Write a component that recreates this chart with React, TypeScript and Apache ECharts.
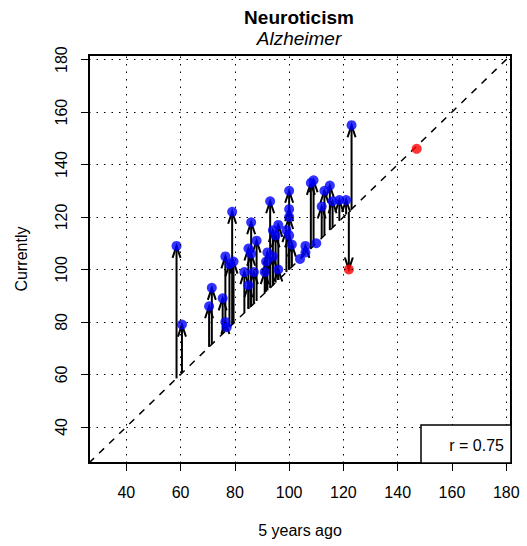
import React, { useEffect, useRef } from "react";
import * as echarts from "echarts";

// Axis range (same for both axes) and tick values
const AXIS_MIN = 26.24;
const AXIS_MAX = 181.76;
const X_TICKS = [40, 60, 80, 100, 120, 140, 160, 180];
const Y_TICKS = [40, 60, 80, 100, 120, 140, 160, 180];

// Blue points: score 5 years ago (x) and currently (y)
const BLUE_BEFORE = [58.5, 60.5, 70.5, 71.5, 75.5, 76.5, 77, 76.5, 78, 79.5, 79, 83.5, 85, 85, 86, 86, 87, 88, 91, 91.5, 92, 93, 94, 94, 95, 96, 96, 99, 100, 100, 100, 100, 101, 104, 106, 106, 110, 108, 109, 112, 113, 115, 116, 118.5, 121, 123];
const BLUE_NOW = [109, 79, 86, 93, 89, 80, 78, 105, 102, 103, 122, 99, 94, 108, 106, 118, 99, 111, 99, 103, 106.5, 126, 105, 115, 113, 117, 100, 115, 130, 123, 120, 113, 109.5, 104, 106.5, 109, 110, 133, 134, 124, 130, 132, 126, 126.5, 126.5, 155];

// Red points
const RED_BEFORE = [122, 147];
const RED_NOW = [100, 146];

const LEGEND_TEXT = "r = 0.75";
const TITLE = "Neuroticism";
const SUBTITLE = "Alzheimer";
const X_NAME = "5 years ago";
const Y_NAME = "Currently";

const FONT = "'Liberation Sans', Arial, Helvetica, sans-serif";

export default function App() {
  const ref = useRef<HTMLDivElement>(null);
  useEffect(() => {
    if (!ref.current) return;
    const chart = echarts.init(ref.current, undefined, { renderer: "svg" });
    const blue = BLUE_BEFORE.map((x, i) => [x, BLUE_NOW[i]]);
    const red = RED_BEFORE.map((x, i) => [x, RED_NOW[i]]);
    const arrows = blue.concat(red);

    const axisCommon = {
      type: "value" as const,
      min: AXIS_MIN,
      max: AXIS_MAX,
      axisLine: { show: false },
      splitLine: { show: false },
      axisTick: {
        show: true,
        inside: false,
        length: 8,
        lineStyle: { color: "#000", width: 1 },
      },
    };

    chart.setOption({
      animation: false,
      textStyle: { fontFamily: FONT },
      grid: {
        left: 89,
        right: 16,
        top: 55,
        bottom: 83,
        show: true,
        borderColor: "#000",
        borderWidth: 2,
        backgroundColor: "transparent",
      },
      xAxis: {
        ...axisCommon,
        axisTick: { ...axisCommon.axisTick, customValues: X_TICKS },
        axisLabel: {
          customValues: X_TICKS,
          color: "#000",
          fontSize: 16,
          margin: 21,
          fontFamily: FONT,
        },
        name: X_NAME,
        nameLocation: "middle",
        nameGap: 59,
        nameTextStyle: { color: "#000", fontSize: 16, fontFamily: FONT },
      },
      yAxis: {
        ...axisCommon,
        axisTick: { ...axisCommon.axisTick, customValues: Y_TICKS },
        axisLabel: {
          customValues: Y_TICKS,
          color: "#000",
          fontSize: 16,
          margin: 20,
          rotate: 90,
          fontFamily: FONT,
        },
        name: Y_NAME,
        nameLocation: "middle",
        nameGap: 60,
        nameTextStyle: { color: "#000", fontSize: 16, fontFamily: FONT },
      },
      graphic: [
        {
          type: "text",
          x: 299,
          y: 17,
          style: {
            text: TITLE,
            fontSize: 19,
            fontWeight: "bold",
            fontFamily: FONT,
            fill: "#000",
            align: "center",
            verticalAlign: "middle",
          },
        },
        {
          type: "text",
          x: 299,
          y: 38,
          style: {
            text: SUBTITLE,
            fontSize: 19,
            fontStyle: "italic",
            fontFamily: FONT,
            fill: "#000",
            align: "center",
            verticalAlign: "middle",
          },
        },
        {
          type: "rect",
          z: 100,
          shape: { x: 421, y: 425, width: 90, height: 38 },
          style: { fill: "#fff", stroke: "#000", lineWidth: 1.5 },
        },
        {
          type: "text",
          z: 101,
          x: 504,
          y: 445,
          style: {
            text: LEGEND_TEXT,
            fontSize: 16,
            fontFamily: FONT,
            fill: "#000",
            align: "right",
            verticalAlign: "middle",
          },
        },
      ],
      series: [
        {
          type: "line",
          data: [
            [AXIS_MIN, AXIS_MIN],
            [AXIS_MAX, AXIS_MAX],
          ],
          symbol: "none",
          silent: true,
          z: 1,
          lineStyle: { color: "#000", width: 1.5, type: [7, 7] },
          markLine: {
            silent: true,
            symbol: ["none", "none"],
            label: { show: false },
            lineStyle: { color: "#000", width: 1, type: [1.5, 6] },
            data: [
              ...X_TICKS.map((v) => ({ xAxis: v })),
              ...Y_TICKS.map((v) => ({ yAxis: v })),
            ],
          },
        },
        {
          type: "custom",
          data: arrows,
          z: 2,
          silent: true,
          renderItem: (params: any, api: any) => {
            const x = api.value(0);
            const y = api.value(1);
            const p0 = api.coord([x, x]);
            const p1 = api.coord([x, y]);
            const dy = p1[1] - p0[1];
            if (Math.abs(dy) < 6) return null;
            const dir = dy < 0 ? -1 : 1;
            const L = 12;
            const W = 4;
            return {
              type: "group",
              children: [
                {
                  type: "line",
                  shape: { x1: p0[0], y1: p0[1], x2: p1[0], y2: p1[1] },
                  style: { stroke: "#000", lineWidth: 2 },
                },
                {
                  type: "polyline",
                  shape: {
                    points: [
                      [p1[0] - W, p1[1] - dir * L],
                      [p1[0], p1[1]],
                      [p1[0] + W, p1[1] - dir * L],
                    ],
                  },
                  style: { stroke: "#000", fill: "none", lineWidth: 2 },
                },
              ],
            };
          },
        },
        {
          type: "scatter",
          data: blue,
          symbol: "circle",
          symbolSize: 10,
          z: 3,
          itemStyle: { color: "#0000ff" },
        },
        {
          type: "scatter",
          data: red,
          symbol: "circle",
          symbolSize: 10,
          z: 3,
          itemStyle: { color: "#ff0000" },
        },
      ],
    });
    return () => chart.dispose();
  }, []);
  return (
    <div
      ref={ref}
      style={{ position: "fixed", left: 0, top: 0, width: 527, height: 546, background: "#fff" }}
    />
  );
}
